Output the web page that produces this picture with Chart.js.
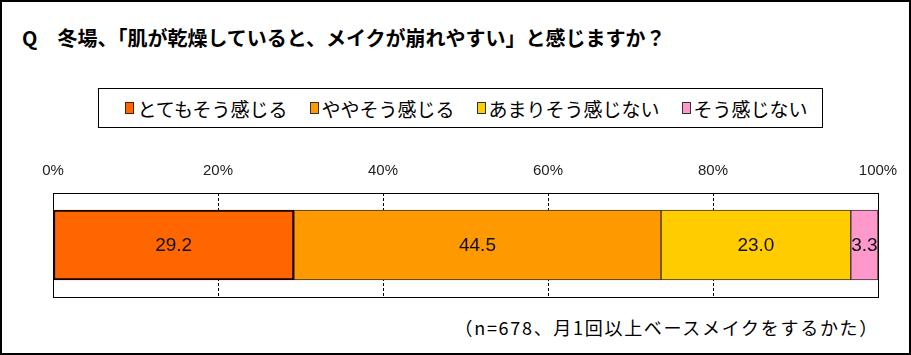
<!DOCTYPE html>
<html><head><meta charset="utf-8">
<script src="https://cdn.jsdelivr.net/npm/chart.js@4"></script>
<style>
html,body{margin:0;padding:0;background:#fff;}
#wrap{position:relative;width:911px;height:355px;box-sizing:border-box;border:2px solid #000;overflow:hidden;font-family:"Noto Sans CJK JP",sans-serif;}
#title{position:absolute;left:20px;top:21px;font-size:20px;font-weight:bold;color:#000;white-space:nowrap;}
#legend{position:absolute;left:96px;top:86px;width:725px;height:40px;box-sizing:border-box;border:1px solid #000;display:flex;align-items:center;justify-content:center;gap:22px;font-size:19px;color:#000;padding-left:12px;}
#legend .it{display:flex;align-items:center;white-space:nowrap;}
#legend .sw{width:9px;height:12px;box-sizing:border-box;border:1px solid #333;margin-right:3px;}
#note{position:absolute;right:30px;top:312px;font-size:18px;letter-spacing:1.7px;color:#000;white-space:nowrap;}
canvas{position:absolute;left:-2px;top:-2px;}
</style></head>
<body><div id="wrap">
<div id="title"></div>
<div id="legend"></div>
<div id="note"></div>
<canvas id="c" width="911" height="355"></canvas>
</div>
<script>
const titleText = "Q　冬場、「肌が乾燥していると、メイクが崩れやすい」と感じますか？";
const noteText = "（n=678、月1回以上ベースメイクをするかた）";
const categories = [""];
const seriesLabels = ["とてもそう感じる", "ややそう感じる", "あまりそう感じない", "そう感じない"];
const seriesValues = [[29.2], [44.5], [23.0], [3.3]];
const seriesColors = ["#FF6600", "#FF9900", "#FFCC00", "#FF99CC"];
const seriesBorders = ["#1a0500", "#333333", "#333333", "#333333"];
const seriesBorderW = [2, 1, 1, 1];
const tickValues = [0, 20, 40, 60, 80, 100];

document.getElementById('title').textContent = titleText;
document.getElementById('note').textContent = noteText;
const lg = document.getElementById('legend');
seriesLabels.forEach((l, i) => {
  const d = document.createElement('div'); d.className = 'it';
  const s = document.createElement('div'); s.className = 'sw'; s.style.background = seriesColors[i];
  if (i === 0) s.style.borderColor = '#5a1a00';
  const t = document.createElement('span'); t.textContent = l;
  d.appendChild(s); d.appendChild(t); lg.appendChild(d);
});

const frame = {
  id: 'frame',
  afterDraw(chart) {
    const {ctx, chartArea: a} = chart;
    ctx.save();
    ctx.strokeStyle = '#000'; ctx.lineWidth = 1;
    ctx.strokeRect(Math.round(a.left) + 0.5, Math.round(a.top) + 0.5, Math.round(a.right - a.left), Math.round(a.bottom - a.top));
    ctx.font = '19px "Liberation Sans Narrow", "Liberation Sans", sans-serif';
    ctx.fillStyle = '#111'; ctx.textAlign = 'center'; ctx.textBaseline = 'middle';
    chart.data.datasets.forEach((ds, i) => {
      const m = chart.getDatasetMeta(i);
      m.data.forEach((el, j) => {
        ctx.fillText(ds.data[j].toFixed(1), el.x - (el.x - el.base) / 2, el.y + 1);
      });
    });
    ctx.restore();
  }
};

new Chart(document.getElementById('c'), {
  type: 'bar',
  data: {
    labels: categories,
    datasets: seriesLabels.map((l, i) => ({
      label: l, data: seriesValues[i], backgroundColor: seriesColors[i],
      borderColor: seriesBorders[i], borderWidth: seriesBorderW[i], borderSkipped: false,
      barThickness: 70
    }))
  },
  options: {
    indexAxis: 'y', responsive: false, animation: false,
    layout: {padding: {left: 53, right: 33, top: 163, bottom: 58}},
    plugins: {legend: {display: false}, tooltip: {enabled: false}},
    scales: {
      x: {
        position: 'top', stacked: true, min: 0, max: 100,
        afterFit(s) { s.height = 30; },
        afterBuildTicks(s) { s.ticks = tickValues.map(v => ({value: v})); },
        grid: {color: '#000', lineWidth: 1, drawTicks: false},
        border: {display: false, dash: [3, 2]},
        ticks: {padding: 13, color: '#222', font: {family: '"Liberation Sans Narrow", "Liberation Sans", sans-serif', size: 15}, callback: v => v + '%'}
      },
      y: {
        stacked: true, display: true,
        afterFit(s) { s.width = 0; },
        grid: {display: false}, border: {display: false}, ticks: {display: false}
      }
    }
  },
  plugins: [frame]
});
</script>
</body></html>
